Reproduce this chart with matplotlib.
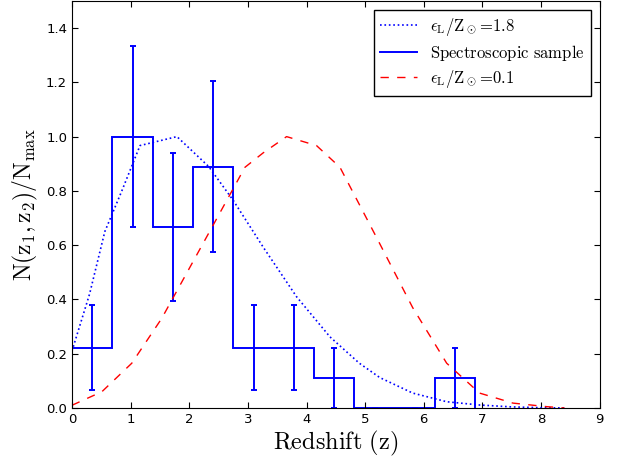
import matplotlib
matplotlib.use('Agg')
import matplotlib.pyplot as plt
import numpy as np

# histogram of the spectroscopic sample (counts per bin, normalised by max)
edges = [0, 0.688, 1.376, 2.064, 2.752, 3.44, 4.128, 4.816, 5.504, 6.192, 6.88]
counts = [2, 9, 6, 8, 2, 2, 1, 0, 0, 1]

# model curves
z_hi = [0, 0.3, 0.56, 0.85, 1.16, 1.79, 2.33, 2.75, 3.26, 3.83, 4.40, 4.9, 5.25,
        5.81, 6.39, 6.95, 7.5, 8.0, 8.4]
n_hi = [0.21, 0.42, 0.65, 0.80, 0.967, 1.0, 0.89, 0.765, 0.593, 0.41, 0.262, 0.165,
        0.112, 0.055, 0.023, 0.011, 0.004, 0.001, 0.0]

z_lo = [0, 0.51, 1.02, 1.53, 2.27, 2.95, 3.26, 3.66, 4.17, 4.57, 5.19, 5.81, 6.39,
        6.95, 7.52, 8.09, 8.4]
n_lo = [0.01, 0.06, 0.165, 0.33, 0.62, 0.887, 0.94, 1.0, 0.967, 0.887, 0.63, 0.37,
        0.165, 0.055, 0.018, 0.005, 0.0]

plt.rcParams['mathtext.fontset'] = 'cm'
plt.rcParams['xtick.direction'] = 'in'
plt.rcParams['ytick.direction'] = 'in'
plt.rcParams['xtick.top'] = True
plt.rcParams['ytick.right'] = True

fig = plt.figure(figsize=(6.26, 4.61), dpi=100)
ax = fig.add_axes([0.115, 0.115, 0.843, 0.883])

counts = np.array(counts, dtype=float)
edges = np.array(edges)
norm = counts / counts.max()
err = np.sqrt(counts) / counts.max()
centres = 0.5 * (edges[:-1] + edges[1:])

ax.plot(z_hi, n_hi, 'b:', lw=1.2, label=r'$\epsilon_{\rm L}/{\rm Z}_\odot\!=\!1.8$')
ax.stairs(norm, edges, baseline=0, color='b', lw=1.4, label=r'$\mathrm{Spectroscopic\ sample}$')
ax.errorbar(centres, norm, yerr=err, fmt='none', ecolor='b', elinewidth=1.4,
            capsize=2.4, capthick=1.4)
ax.plot(z_lo, n_lo, 'r--', lw=1.0, dashes=(6, 6), label=r'$\epsilon_{\rm L}/{\rm Z}_\odot\!=\!0.1$')

ax.set_xlim(0, 9)
ax.set_ylim(0, 1.5)
ax.set_xticks(range(10))
ax.set_yticks(np.arange(0, 1.41, 0.2))
ax.tick_params(labelsize=9.5, length=4)

ax.set_xlabel(r'$\mathrm{Redshift\ (z)}$', fontsize=17.5, labelpad=2)
ax.set_ylabel(r'$\mathrm{N(z_1,z_2)/N_{max}}$', fontsize=17, labelpad=4)

leg = ax.legend(loc='upper right', fontsize=12, fancybox=False, framealpha=1,
                edgecolor='black', handlelength=2.2, borderaxespad=0.55,
                labelspacing=0.3, borderpad=0.35)
leg.get_frame().set_linewidth(1.0)

fig.savefig('out.png', dpi=100)
